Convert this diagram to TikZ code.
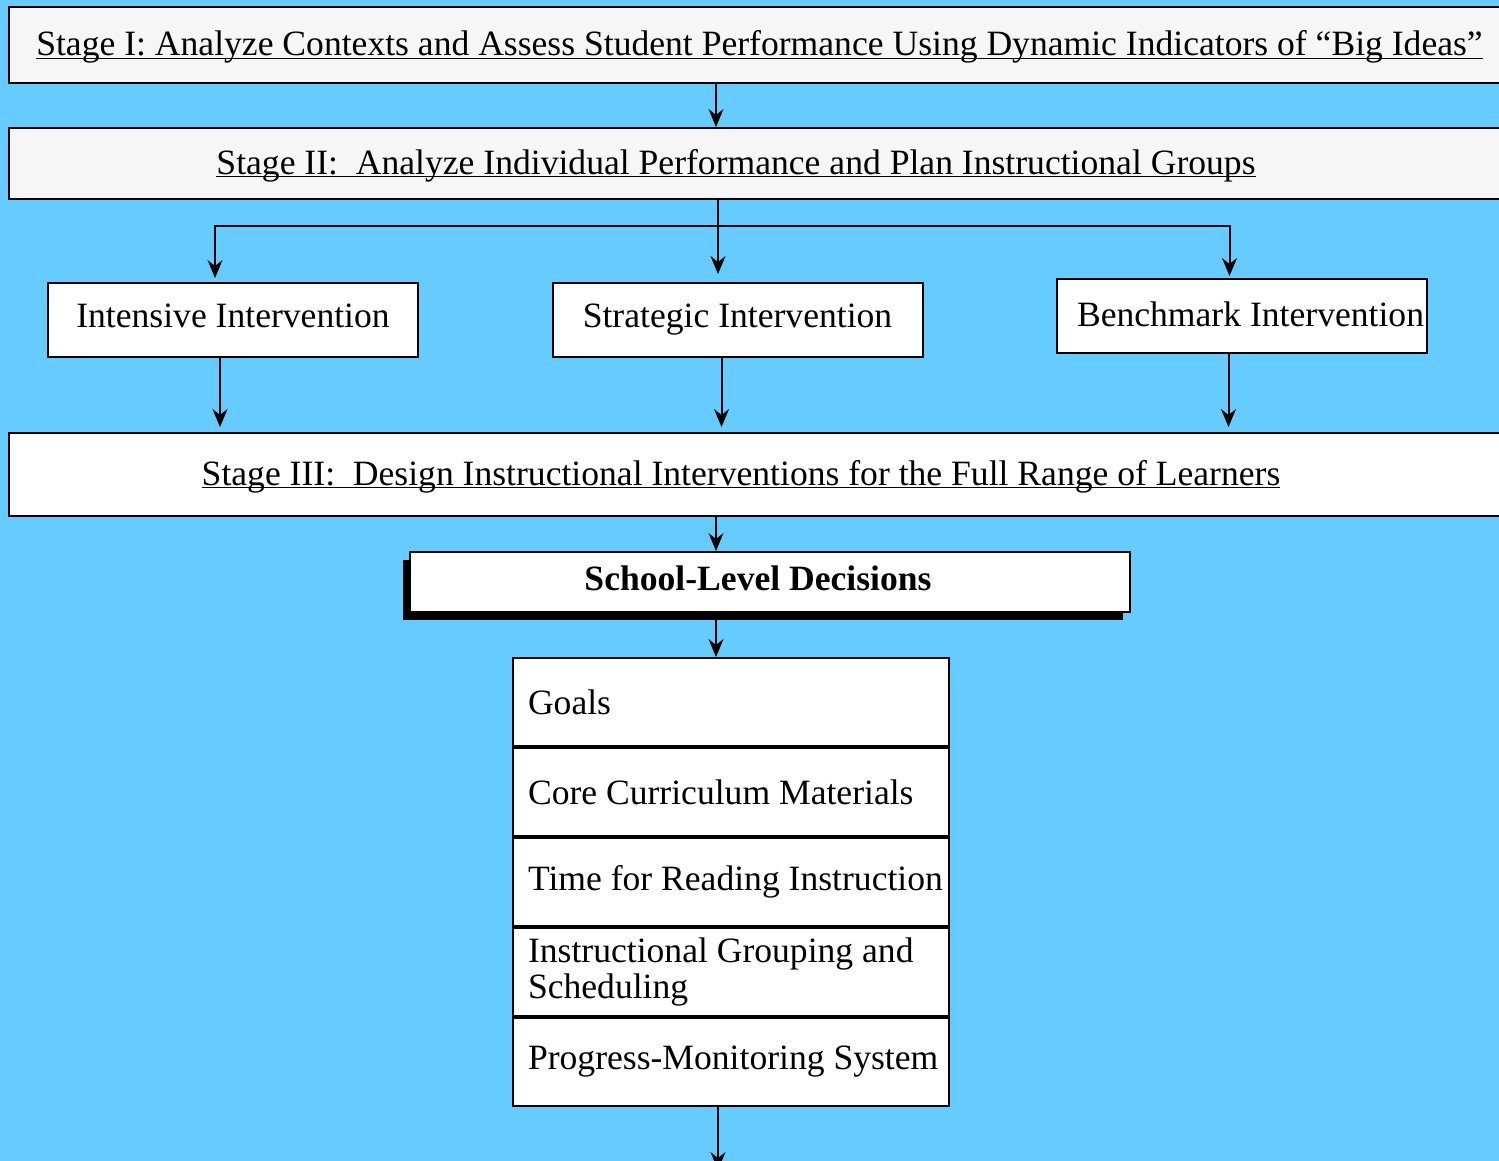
\documentclass[tikz,border=0pt]{standalone}
\usepackage{fontspec}
\setmainfont{Liberation Serif}
\usepackage{tikz}
\usetikzlibrary{arrows.meta, positioning, shadows}
\definecolor{skyblue}{RGB}{102,204,255}
\definecolor{palegray}{RGB}{246,246,246}

% underline that cuts through descenders
\newcommand{\stageline}[1]{\underline{\raisebox{0pt}[\height][0pt]{#1}}}
% list rows start a little way in from the frame
\newcommand{\rowtext}[1]{\leftskip=6pt #1\par}

\tikzset{
	boxfont/.style={font=\fontsize{17.8}{18}\selectfont},
	stagebox/.style={draw, line width=1pt, fill=palegray, minimum width=750.5pt, boxfont},
	groupbox/.style={draw, line width=1pt, fill=white, minimum width=185pt, minimum height=37pt, text height=12pt, text depth=5pt, boxfont},
	itembox/.style={draw, line width=1pt, fill=white, minimum height=44pt, text width=215pt, inner xsep=1.5pt, align=flush left, boxfont},
	arr/.style={line width=1pt, -{Stealth[length=9pt, width=7.5pt, inset=3pt]}},
}

\begin{document}
\begin{tikzpicture}[x=0.5pt, y=-0.5pt]
			\useasboundingbox (0,0) rectangle (1499,1161);
			\fill [skyblue] (0,0) rectangle (1499,1161);
			
			% the three stages run off the right edge
			\node [stagebox, minimum height=38pt] (stage1) at (759.5,45) {\stageline{Stage I: Analyze Contexts and Assess Student Performance Using Dynamic Indicators of “Big Ideas”}};
			\node [stagebox, minimum height=35.5pt] (stage2) at (759.5,163.5) {\stageline{Stage II:\ \ Analyze Individual Performance and Plan Instructional Groups}\hspace*{23.5pt}};
			
			\node [groupbox] (intensive) at (233,320) {Intensive Intervention};
			\node [groupbox] (strategic) at (737.5,320) {Strategic Intervention};
			\node [groupbox, text depth=2pt, inner xsep=0pt] (benchmark) at (1241.5,316) {\hspace*{9pt}Benchmark Intervention};
			
			\node [stagebox, fill=white, minimum height=41.5pt] (stage3) at (759.5,474.5) {\stageline{Stage III:\ \ Design Instructional Interventions for the Full Range of Learners}\hspace*{18.5pt}};
			
			\node [draw, line width=1pt, fill=white, minimum width=360pt, minimum height=30pt, text height=12pt, text depth=4pt, font=\fontsize{17.8}{18}\selectfont\bfseries,
				drop shadow={shadow xshift=-3.5pt, shadow yshift=-4pt, fill=black, opacity=1}] (school) at (770,582) {School-Level Decisions\hspace*{12pt}};
			
			\node [itembox, anchor=north] (goals) at (731,657) {\rowtext{Goals}};
			\node [itembox, below=0pt of goals] (core) {\rowtext{Core Curriculum Materials}};
			\node [itembox, below=0pt of core] (time) {\rowtext{Time for Reading Instruction}};
			\node [itembox, below=0pt of time] (grouping) {\rowtext{Instructional Grouping and\\Scheduling}};
			\node [itembox, below=0pt of grouping] (progress) {\rowtext{Progress-Monitoring System}};
			
			\coordinate (spine) at (716,0);
			\coordinate (fork) at (718,226);
			\coordinate (intout) at ([xshift=-6.5pt]intensive.south);
			\coordinate (strout) at ([xshift=-8pt]strategic.south);
			\coordinate (benout) at ([xshift=-6.5pt]benchmark.south);
			\coordinate (exit) at (718,1170);
			
			\draw [arr] (stage1.south -| spine) -- (stage2.north -| spine);
			\draw [line width=1pt] (stage2.south -| fork) -- (fork);
			\draw [arr, shorten >=4pt] (fork) -- (fork |- strategic.north);
			\draw [arr, shorten >=2pt] (fork) -| ([xshift=-9pt]intensive.north);
			\draw [arr, shorten >=1pt] (fork) -| ([xshift=-6pt]benchmark.north);
			
			\foreach \n in {intout, strout, benout}{
				\draw [arr, shorten >=2.5pt] (\n) -- (\n |- stage3.north);
			}
			
			\draw [arr] (stage3.south -| spine) -- (school.north -| spine);
			\draw [arr] (school.south -| spine) -- (goals.north -| spine);
			\draw [arr] (progress.south -| exit) -- (exit);
		\end{tikzpicture}
\end{document}
